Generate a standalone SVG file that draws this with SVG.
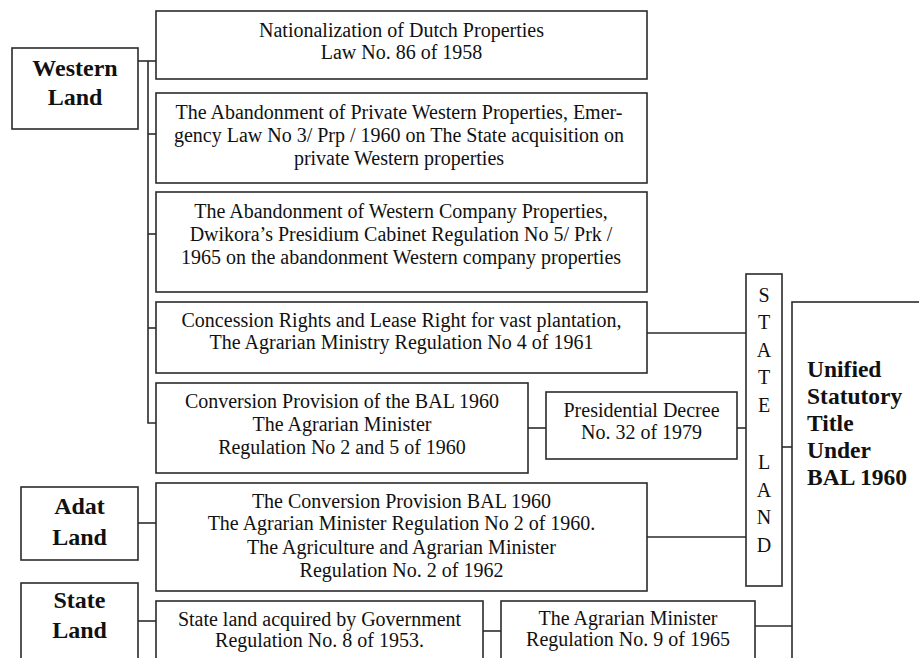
<svg xmlns="http://www.w3.org/2000/svg" width="919" height="658" viewBox="0 0 919 658">
<style>
rect{fill:#fff;stroke:#2b2b2b;stroke-width:1.6}
.c line,.c polyline{stroke:#2b2b2b;stroke-width:1.6;fill:none}
text{font-family:"Liberation Serif","Times New Roman",serif;fill:#111}
.t{font-size:20px;text-anchor:middle}
.b{font-size:24px;font-weight:bold;text-anchor:middle}
.u{font-size:23.5px;font-weight:bold}
</style>
<rect x="0" y="0" width="919" height="658" style="fill:#fff;stroke:none"/>
<g class="c" id="connectors">
<polyline points="138,61 156,61"/>
<polyline points="148,61 148,423 156,423"/>
<line x1="148" y1="134" x2="156" y2="134"/>
<line x1="148" y1="234" x2="156" y2="234"/>
<line x1="148" y1="328" x2="156" y2="328"/>
<line x1="647" y1="333" x2="746" y2="333"/>
<line x1="528" y1="428" x2="546" y2="428"/>
<line x1="737" y1="428" x2="746" y2="428"/>
<line x1="138" y1="523" x2="156" y2="523"/>
<line x1="647" y1="537" x2="746" y2="537"/>
<line x1="782" y1="447" x2="792" y2="447"/>
<line x1="138" y1="621" x2="156" y2="621"/>
<line x1="483" y1="631" x2="501" y2="631"/>
<line x1="755" y1="626" x2="792" y2="626"/>
</g>
<g id="western-land">
<rect x="12" y="48" width="126" height="81"/>
<text class="b" x="75" y="76">Western</text>
<text class="b" x="75" y="105">Land</text>
</g>
<g id="nationalization">
<rect x="156" y="11" width="491" height="68"/>
<text class="t" x="401.5" y="37">Nationalization of Dutch Properties</text>
<text class="t" x="401.5" y="59">Law No. 86 of 1958</text>
</g>
<g id="abandonment-private">
<rect x="156" y="93" width="491" height="90"/>
<text class="t" x="399" y="119">The Abandonment of Private Western Properties, Emer-</text>
<text class="t" x="399" y="142">gency Law No 3/ Prp / 1960 on The State acquisition on</text>
<text class="t" x="399" y="165">private Western properties</text>
</g>
<g id="abandonment-company">
<rect x="156" y="192" width="491" height="100"/>
<text class="t" x="401" y="218">The Abandonment of Western Company Properties,</text>
<text class="t" x="401" y="241">Dwikora’s Presidium Cabinet Regulation No 5/ Prk /</text>
<text class="t" x="401" y="264">1965 on the abandonment Western company properties</text>
</g>
<g id="concession">
<rect x="156" y="302" width="491" height="71"/>
<text class="t" x="401.5" y="327">Concession Rights and Lease Right for vast plantation,</text>
<text class="t" x="401.5" y="349">The Agrarian Ministry Regulation No 4 of 1961</text>
</g>
<g id="conversion-provision">
<rect x="156" y="383" width="372" height="90"/>
<text class="t" x="342" y="408">Conversion Provision of the BAL 1960</text>
<text class="t" x="342" y="431">The Agrarian Minister</text>
<text class="t" x="342" y="454">Regulation No 2 and 5 of 1960</text>
</g>
<g id="presidential-decree">
<rect x="546" y="392" width="191" height="67"/>
<text class="t" x="641.5" y="417">Presidential Decree</text>
<text class="t" x="641.5" y="439">No. 32 of 1979</text>
</g>
<g id="adat-land">
<rect x="21" y="487" width="117" height="73"/>
<text class="b" x="79.5" y="514">Adat</text>
<text class="b" x="79.5" y="545">Land</text>
</g>
<g id="conversion-bal">
<rect x="156" y="483" width="491" height="108"/>
<text class="t" x="401.5" y="508">The Conversion Provision BAL 1960</text>
<text class="t" x="401.5" y="530">The Agrarian Minister Regulation No 2 of 1960.</text>
<text class="t" x="401.5" y="554">The Agriculture and Agrarian Minister</text>
<text class="t" x="401.5" y="577">Regulation No. 2 of 1962</text>
</g>
<g id="state-land-box">
<rect x="21" y="583" width="117" height="90"/>
<text class="b" x="79.5" y="608">State</text>
<text class="b" x="79.5" y="638">Land</text>
</g>
<g id="state-land-acquired">
<rect x="156" y="601" width="327" height="70"/>
<text class="t" x="319.5" y="626">State land acquired by Government</text>
<text class="t" x="319.5" y="647">Regulation No. 8 of 1953.</text>
</g>
<g id="agrarian-1965">
<rect x="501" y="601" width="254" height="70"/>
<text class="t" x="628" y="625">The Agrarian Minister</text>
<text class="t" x="628" y="646">Regulation No. 9 of 1965</text>
</g>
<g id="state-land-vertical">
<rect x="746" y="274" width="36" height="312"/>
<text class="t" x="764" y="302">S</text>
<text class="t" x="764" y="329">T</text>
<text class="t" x="764" y="357">A</text>
<text class="t" x="764" y="384">T</text>
<text class="t" x="764" y="412">E</text>
<text class="t" x="764" y="469">L</text>
<text class="t" x="764" y="497">A</text>
<text class="t" x="764" y="524">N</text>
<text class="t" x="764" y="552">D</text>
</g>
<g id="unified">
<rect x="792" y="302" width="140" height="380"/>
<text class="u" x="807" y="377">Unified</text>
<text class="u" x="807" y="404">Statutory</text>
<text class="u" x="807" y="431">Title</text>
<text class="u" x="807" y="458">Under</text>
<text class="u" x="807" y="485">BAL 1960</text>
</g>
</svg>
